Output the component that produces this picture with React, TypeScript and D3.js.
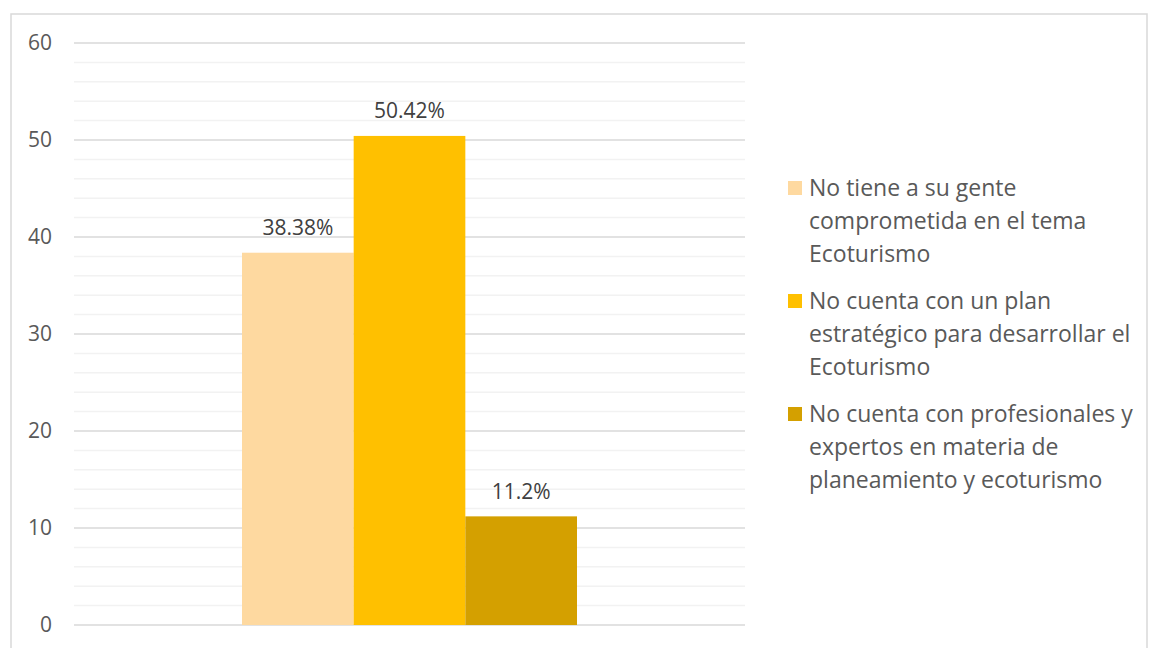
import React from "react";
import * as d3 from "d3";

const categories = [
  ["No tiene a su gente", "comprometida en el tema", "Ecoturismo"],
  ["No cuenta con un plan", "estratégico para desarrollar el", "Ecoturismo"],
  ["No cuenta con profesionales y", "expertos en materia de", "planeamiento y ecoturismo"],
];
const values = [38.38, 50.42, 11.2];
const labels = ["38.38%", "50.42%", "11.2%"];
const colors = ["#FED9A0", "#FFC000", "#D4A000"];
const yTicks = [0, 10, 20, 30, 40, 50, 60];
const minorTicks = d3.range(0, 61, 2);

export default function App() {
  const W = 1150, H = 648;
  const x0 = 74, x1 = 745;
  const y = d3.scaleLinear().domain([0, 60]).range([625, 43]);
  const band = d3.scaleBand<number>().domain([0, 1, 2]).range([242, 577]).padding(0);
  const font = "'Open Sans', 'Liberation Sans', sans-serif";
  return (
    <svg width={W} height={H} style={{ position: "absolute", left: 0, top: 0, display: "block" }} fontFamily={font}>
      <rect x={0} y={0} width={W} height={H} fill="#fff" />
      <rect x={11} y={14} width={1136} height={660} fill="none" stroke="#d9d9d9" strokeWidth={1.5} />
      {minorTicks.filter((t) => t % 10 !== 0).map((t) => (
        <line key={"m" + t} x1={x0} x2={x1} y1={y(t)} y2={y(t)} stroke="#f2f2f2" strokeWidth={1.5} />
      ))}
      {yTicks.map((t) => (
        <g key={t}>
          <line x1={x0} x2={x1} y1={y(t)} y2={y(t)} stroke="#d9d9d9" strokeWidth={1.5} />
          <text x={52} y={y(t)} dy="0.35em" textAnchor="end" fontSize={21} fill="#595959">{t}</text>
        </g>
      ))}
      {values.map((v, i) => (
        <g key={i}>
          <rect x={band(i)} y={y(v)} width={band.bandwidth()} height={y(0) - y(v)} fill={colors[i]} />
          <text x={(band(i) as number) + band.bandwidth() / 2} y={y(v) - 25} dy="0.35em" textAnchor="middle" fontSize={21} fill="#404040">{labels[i]}</text>
        </g>
      ))}
      {categories.map((lines, i) => {
        const top = 188 + i * 113;
        return (
          <g key={i}>
            <rect x={788} y={top - 7} width={14} height={14} fill={colors[i]} />
            {lines.map((l, j) => (
              <text key={j} x={809} y={top + j * 33} dy="0.35em" fontSize={23} fill="#595959">{l}</text>
            ))}
          </g>
        );
      })}
    </svg>
  );
}
